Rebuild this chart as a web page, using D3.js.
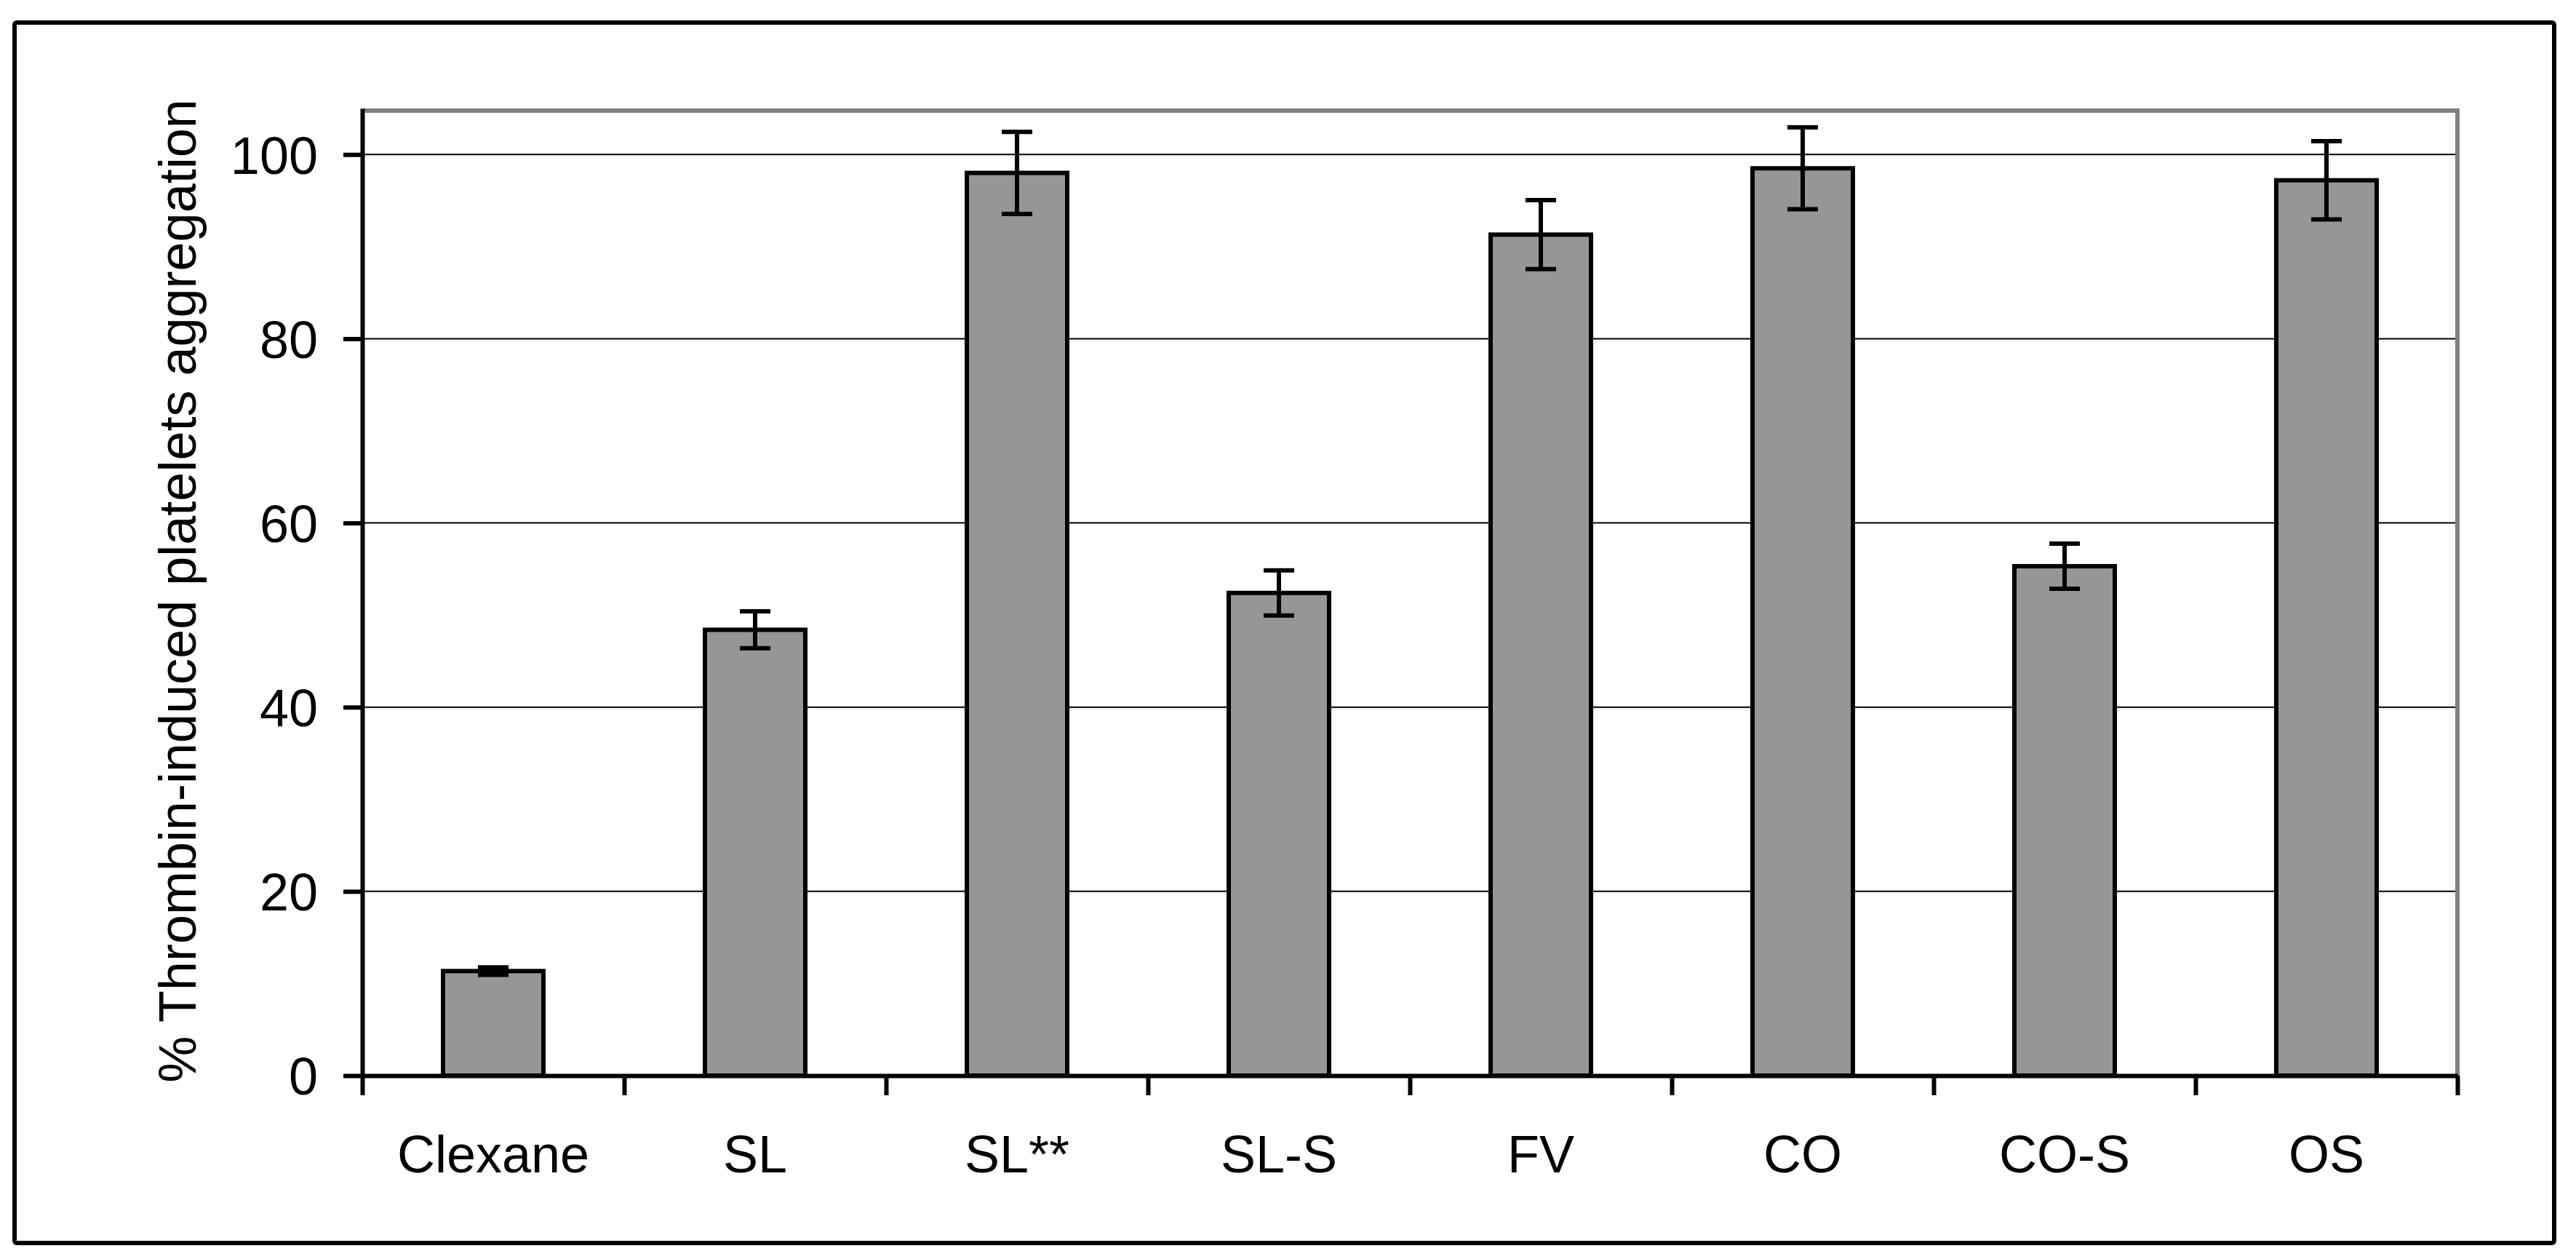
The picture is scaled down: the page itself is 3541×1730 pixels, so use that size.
<!DOCTYPE html>
<html>
<head>
<meta charset="utf-8">
<script src="https://cdn.jsdelivr.net/npm/d3@7"></script>
<style>
  html, body { margin: 0; padding: 0; background: #fff; }
  svg { display: block; }
  text { font-family: "Liberation Sans", Arial, sans-serif; fill: #000; }
</style>
</head>
<body>
<svg id="chart" width="3541" height="1730"></svg>
<script>
// ---- data ----
const categories = ["Clexane", "SL", "SL**", "SL-S", "FV", "CO", "CO-S", "OS"];
const values     = [11.35, 48.4, 98.0, 52.4, 91.3, 98.5, 55.3, 97.2];
const errors     = [0.4, 2.0, 4.45, 2.45, 3.75, 4.45, 2.45, 4.25];
const yTicks     = [0, 20, 40, 60, 80, 100];
const yTitle     = "% Thrombin-induced platelets aggregation";

// ---- layout ----
const plot = { left: 498, right: 3378, top: 149, bottom: 1478 };
const fontSize = 72;

const svg = d3.select("#chart");

// outer frame
svg.append("rect")
  .attr("x", 20).attr("y", 31)
  .attr("width", 3511 - 20).attr("height", 1708 - 31)
  .attr("rx", 3)
  .attr("fill", "#fff").attr("stroke", "#000").attr("stroke-width", 6);

// scales
const y = d3.scaleLinear().domain([0, 105]).range([plot.bottom, plot.top]);
const xCat = d3.scaleBand().domain(categories).range([plot.left, plot.right]).padding(0);
const barW = 138;
const pad = 1 - barW / xCat.bandwidth();
const xBar = d3.scaleBand().domain(categories).range([plot.left, plot.right])
  .paddingInner(pad).paddingOuter(pad / 2);
const xIdx = d3.scaleLinear().domain([0, categories.length]).range([plot.left, plot.right]);

// gridlines
svg.append("g").selectAll("line").data(yTicks.filter(d => d > 0)).join("line")
  .attr("x1", plot.left).attr("x2", plot.right)
  .attr("y1", d => y(d)).attr("y2", d => y(d))
  .attr("stroke", "#000").attr("stroke-width", 2);

// gray plot border (top & right)
svg.append("path")
  .attr("d", `M${plot.left},${plot.top + 3}H${plot.right}V${plot.bottom}`)
  .attr("fill", "none").attr("stroke", "#808080").attr("stroke-width", 6);

// bars
svg.append("g").selectAll("rect").data(categories).join("rect")
  .attr("x", d => xBar(d))
  .attr("width", xBar.bandwidth())
  .attr("y", (d, i) => y(values[i]))
  .attr("height", (d, i) => y(0) - y(values[i]))
  .attr("fill", "#969696").attr("stroke", "#000").attr("stroke-width", 6);

// error bars
const capW = 42;
const eb = svg.append("g").attr("stroke", "#000").attr("stroke-width", 6);
categories.forEach((c, i) => {
  const cx = xCat(c) + xCat.bandwidth() / 2;
  const yt = y(values[i] + errors[i]), yb = y(values[i] - errors[i]);
  eb.append("line").attr("x1", cx).attr("x2", cx).attr("y1", yt).attr("y2", yb);
  eb.append("line").attr("x1", cx - capW / 2).attr("x2", cx + capW / 2).attr("y1", yt).attr("y2", yt);
  eb.append("line").attr("x1", cx - capW / 2).attr("x2", cx + capW / 2).attr("y1", yb).attr("y2", yb);
});

// y axis
const yAxis = svg.append("g").attr("transform", `translate(${plot.left},0)`)
  .call(d3.axisLeft(y).tickValues(yTicks).tickSize(26).tickSizeOuter(0).tickPadding(35));
yAxis.select(".domain").attr("stroke", "#000").attr("stroke-width", 6);
yAxis.selectAll(".tick line").attr("stroke", "#000").attr("stroke-width", 6);
yAxis.selectAll(".tick text").attr("font-size", fontSize)
  .attr("font-family", '"Liberation Sans", Arial, sans-serif').attr("dy", "0.36em");

// x axis: ticks at category boundaries
const xAxis = svg.append("g").attr("transform", `translate(0,${plot.bottom})`)
  .call(d3.axisBottom(xIdx).tickValues(d3.range(categories.length + 1))
    .tickSize(27).tickSizeOuter(0).tickFormat(""));
xAxis.select(".domain").attr("stroke", "#000").attr("stroke-width", 6);
xAxis.selectAll(".tick line").attr("stroke", "#000").attr("stroke-width", 6);

// x labels
const xLab = svg.append("g").attr("transform", `translate(0,${plot.bottom})`)
  .call(d3.axisBottom(xCat).tickSize(0).tickPadding(82));
xLab.select(".domain").remove();
xLab.selectAll(".tick text").attr("font-size", fontSize)
  .attr("font-family", '"Liberation Sans", Arial, sans-serif');

// y title
svg.append("text")
  .attr("transform", `translate(269,812) rotate(-90)`)
  .attr("text-anchor", "middle")
  .attr("font-size", fontSize)
  .text(yTitle);
</script>
</body>
</html>
